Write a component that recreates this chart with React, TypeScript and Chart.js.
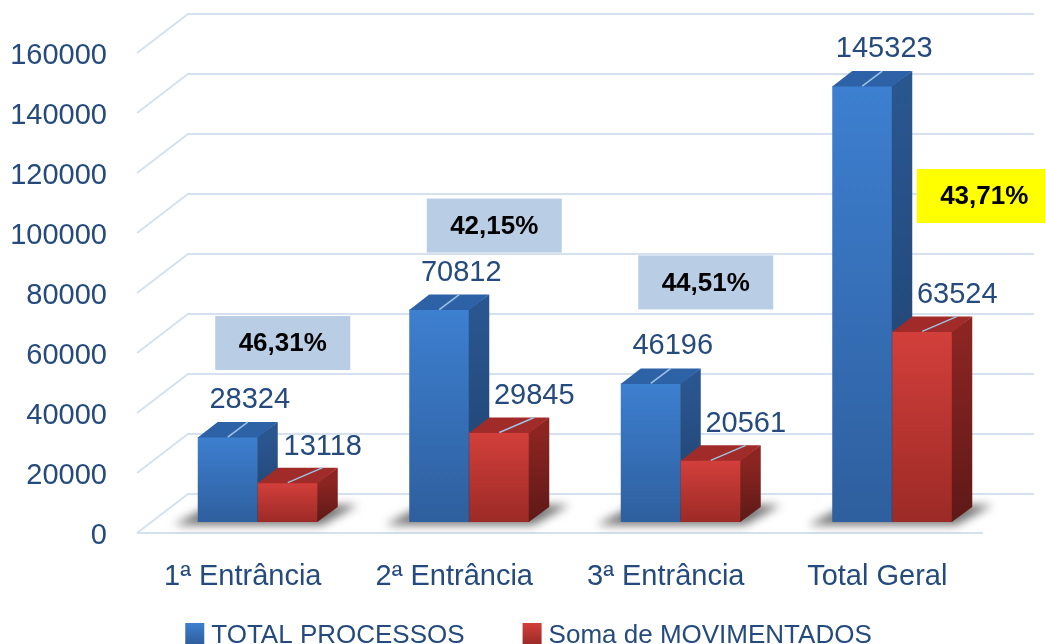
import React, { useEffect, useRef } from "react";
import { Chart, registerables } from "chart.js";

Chart.register(...registerables);

// ---------- data ----------
const categories = ["1ª Entrância", "2ª Entrância", "3ª Entrância", "Total Geral"];
const totalProcessos = [28324, 70812, 46196, 145323];
const somaMovimentados = [13118, 29845, 20561, 63524];
const percentages = ["46,31%", "42,15%", "44,51%", "43,71%"];
const seriesNames = ["TOTAL PROCESSOS", "Soma de MOVIMENTADOS"];
const yMin = 0;
const yMax = 160000;
const yStep = 20000;

// ---------- styles ----------
const FONT = "'Liberation Sans', Arial, sans-serif";
const TEXT_BLUE = "#254a7d";
const GRID = "#d6e1f0";
const LEADER = "#9dc3e6";

const PALETTE = [
  { frontTop: "#3d7fd0", frontBottom: "#2e5f9e", sideTop: "#2a5690", sideBottom: "#1f406b", top: "#2d62a6" },
  { frontTop: "#d33f3b", frontBottom: "#9c2a26", sideTop: "#8c2522", sideBottom: "#5e1917", top: "#a12b28" },
];

const DEPTH = { dx: 20, dy: -15 };
const FLOOR_FRONT = { dx: -15, dy: 11 };
const WALL_BACK = { dx: 36, dy: -28 };
const VALUE_LABEL = [
  { tx: 22, ty: -37, lx: 20, ly: -15 },
  { tx: 35, ty: -36, lx: 35, ly: -15 },
];
const BOX_OFFSETS = [
  { dx: 25, dy: -94 },
  { dx: 25, dy: -84 },
  { dx: 25, dy: -101 },
  { dx: 92, dy: 110 },
];
const BOX_COLORS = ["#b9cde5", "#b9cde5", "#b9cde5", "#ffff00"];
const BOX_W = 135;
const BOX_H = 54;

function frontGradient(d: number) {
  return (c: any) => {
    const pal = PALETTE[d];
    const chart = c.chart;
    const ys = chart.scales && chart.scales.y;
    if (!ys || c.type !== "data") return pal.frontTop;
    const yTop = ys.getPixelForValue(c.raw as number);
    const yBase = ys.getPixelForValue(0);
    if (!isFinite(yTop) || !isFinite(yBase)) return pal.frontTop;
    const g = chart.ctx.createLinearGradient(0, yTop, 0, yBase);
    g.addColorStop(0, pal.frontTop);
    g.addColorStop(1, pal.frontBottom);
    return g;
  };
}

function drawFaces(ctx: CanvasRenderingContext2D, bar: any, pal: any) {
  const { x, y, base, width } = bar.getProps(["x", "y", "base", "width"], true);
  const l = x - width / 2;
  const r = x + width / 2;
  const gs = ctx.createLinearGradient(0, y, 0, base);
  gs.addColorStop(0, pal.sideTop);
  gs.addColorStop(1, pal.sideBottom);
  ctx.fillStyle = gs;
  ctx.beginPath();
  ctx.moveTo(r - 0.5, y);
  ctx.lineTo(r + DEPTH.dx, y + DEPTH.dy);
  ctx.lineTo(r + DEPTH.dx, base + DEPTH.dy);
  ctx.lineTo(r - 0.5, base);
  ctx.closePath();
  ctx.fill();
  ctx.fillStyle = pal.top;
  ctx.beginPath();
  ctx.moveTo(l, y + 0.5);
  ctx.lineTo(l + DEPTH.dx, y + DEPTH.dy);
  ctx.lineTo(r + DEPTH.dx, y + DEPTH.dy);
  ctx.lineTo(r, y + 0.5);
  ctx.closePath();
  ctx.fill();
}

const threeD = {
  id: "threeD",
  beforeDatasetsDraw(chart: any) {
    const { ctx, chartArea, scales } = chart;
    const ys = scales.y;
    ctx.save();
    ctx.strokeStyle = GRID;
    ctx.lineWidth = 2;
    ys.ticks.forEach((t: any) => {
      const py = ys.getPixelForValue(t.value);
      ctx.beginPath();
      ctx.moveTo(chartArea.left + FLOOR_FRONT.dx, py + FLOOR_FRONT.dy);
      ctx.lineTo(chartArea.left + WALL_BACK.dx, py + WALL_BACK.dy);
      ctx.lineTo(chartArea.right + WALL_BACK.dx, py + WALL_BACK.dy);
      ctx.stroke();
    });
    const p0 = ys.getPixelForValue(0);
    ctx.beginPath();
    ctx.moveTo(chartArea.left + FLOOR_FRONT.dx, p0 + FLOOR_FRONT.dy);
    ctx.lineTo(chartArea.right + FLOOR_FRONT.dx, p0 + FLOOR_FRONT.dy);
    ctx.stroke();

    // soft floor shadows
    const mb = chart.getDatasetMeta(0);
    const mr = chart.getDatasetMeta(1);
    mb.data.forEach((bb: any, i: number) => {
      const br = mr.data[i];
      const pb = bb.getProps(["x", "width", "base"], true);
      const pr = br.getProps(["x", "width"], true);
      const l = pb.x - pb.width / 2;
      const r = pr.x + pr.width / 2;
      const base = pb.base;
      ctx.save();
      ctx.filter = "blur(5px)";
      ctx.fillStyle = "rgba(0,0,0,0.55)";
      ctx.beginPath();
      ctx.moveTo(l - 24, base + 3);
      ctx.lineTo(r + 4, base + 3);
      ctx.lineTo(r + DEPTH.dx + 20, base + DEPTH.dy - 2);
      ctx.lineTo(l + DEPTH.dx - 6, base + DEPTH.dy - 2);
      ctx.closePath();
      ctx.fill();
      ctx.restore();
    });
    ctx.restore();
  },
  afterDatasetsDraw(chart: any) {
    const ctx: CanvasRenderingContext2D = chart.ctx;
    const metas = [chart.getDatasetMeta(0), chart.getDatasetMeta(1)];
    ctx.save();
    for (let i = 0; i < categories.length; i++) {
      metas.forEach((meta: any, d: number) => {
        const bar = meta.data[i];
        if (d > 0) bar.draw(ctx);
        drawFaces(ctx, bar, PALETTE[d]);
      });
    }
    // value labels with leader lines
    ctx.font = `29px ${FONT}`;
    ctx.textAlign = "center";
    ctx.textBaseline = "middle";
    metas.forEach((meta: any, d: number) => {
      const ds = chart.data.datasets[d];
      meta.data.forEach((bar: any, i: number) => {
        const { x, y } = bar.getProps(["x", "y"], true);
        const o = VALUE_LABEL[d];
        ctx.strokeStyle = LEADER;
        ctx.lineWidth = 1.5;
        ctx.beginPath();
        ctx.moveTo(x, y);
        ctx.lineTo(x + o.lx, y + o.ly);
        ctx.stroke();
        ctx.fillStyle = TEXT_BLUE;
        ctx.fillText(String(ds.data[i]), x + o.tx, y + o.ty);
      });
    });
    // percentage boxes
    const xs = chart.scales.x;
    ctx.font = `bold 26px ${FONT}`;
    metas[0].data.forEach((bar: any, i: number) => {
      const { y } = bar.getProps(["y"], true);
      const cx = xs.getPixelForValue(i) + BOX_OFFSETS[i].dx;
      const cy = y + BOX_OFFSETS[i].dy;
      ctx.fillStyle = BOX_COLORS[i];
      ctx.fillRect(cx - BOX_W / 2, cy - BOX_H / 2, BOX_W, BOX_H);
      ctx.fillStyle = "#000000";
      ctx.fillText(percentages[i], cx, cy + 1);
    });
    ctx.restore();
  },
  afterDraw(chart: any) {
    const ctx: CanvasRenderingContext2D = chart.ctx;
    ctx.save();
    ctx.font = `26px ${FONT}`;
    const sq = 19;
    const gap = 7;
    const itemGap = 58;
    const widths = seriesNames.map((n) => ctx.measureText(n).width);
    const total = widths.reduce((a, w) => a + sq + gap + w, 0) + itemGap * (seriesNames.length - 1);
    let x = (chart.width - total) / 2 + 6;
    const baseline = 643;
    seriesNames.forEach((n, d) => {
      const pal = PALETTE[d];
      const g = ctx.createLinearGradient(0, 623, 0, 644);
      g.addColorStop(0, pal.frontTop);
      g.addColorStop(1, pal.frontBottom);
      ctx.fillStyle = g;
      ctx.fillRect(x, 623, sq, 21);
      x += sq + gap;
      ctx.fillStyle = TEXT_BLUE;
      ctx.textAlign = "left";
      ctx.textBaseline = "alphabetic";
      ctx.fillText(n, x, baseline);
      x += widths[d] + itemGap;
    });
    ctx.restore();
  },
};

export default function App() {
  const ref = useRef<HTMLCanvasElement | null>(null);
  useEffect(() => {
    if (!ref.current) return;
    const chart = new Chart(ref.current, {
      type: "bar",
      data: {
        labels: categories,
        datasets: [
          {
            label: seriesNames[0],
            data: totalProcessos,
            backgroundColor: frontGradient(0),
            borderWidth: 0,
            categoryPercentage: 120 / 211.5,
            barPercentage: 1,
          },
          {
            label: seriesNames[1],
            data: somaMovimentados,
            backgroundColor: frontGradient(1),
            borderWidth: 0,
            categoryPercentage: 120 / 211.5,
            barPercentage: 1,
          },
        ],
      },
      options: {
        responsive: false,
        animation: false,
        devicePixelRatio: 1,
        events: [],
        layout: { padding: { left: 0, right: 47, top: 42, bottom: 0 } },
        plugins: { legend: { display: false }, tooltip: { enabled: false } },
        scales: {
          x: {
            grid: { display: false },
            border: { display: false },
            ticks: {
              color: TEXT_BLUE,
              font: { family: FONT, size: 29 },
              padding: 30,
              labelOffset: -15,
              maxRotation: 0,
              autoSkip: false,
            },
            afterFit: (s: any) => {
              s.height = 122;
              s.paddingLeft = 0;
              s.paddingRight = 0;
            },
          },
          y: {
            min: yMin,
            max: yMax,
            grid: { display: false },
            border: { display: false },
            ticks: {
              stepSize: yStep,
              color: TEXT_BLUE,
              font: { family: FONT, size: 29 },
              padding: 37,
              labelOffset: 14,
              callback: (v: any) => String(v),
            },
            afterFit: (s: any) => {
              s.width = 152;
              s.paddingTop = 0;
              s.paddingBottom = 0;
            },
          },
        },
      },
      plugins: [threeD],
    });
    return () => chart.destroy();
  }, []);
  return (
    <div style={{ position: "fixed", left: 0, top: 0, width: 1045, height: 644, background: "#ffffff" }}>
      <canvas ref={ref} width={1045} height={644} style={{ display: "block" }} />
    </div>
  );
}
